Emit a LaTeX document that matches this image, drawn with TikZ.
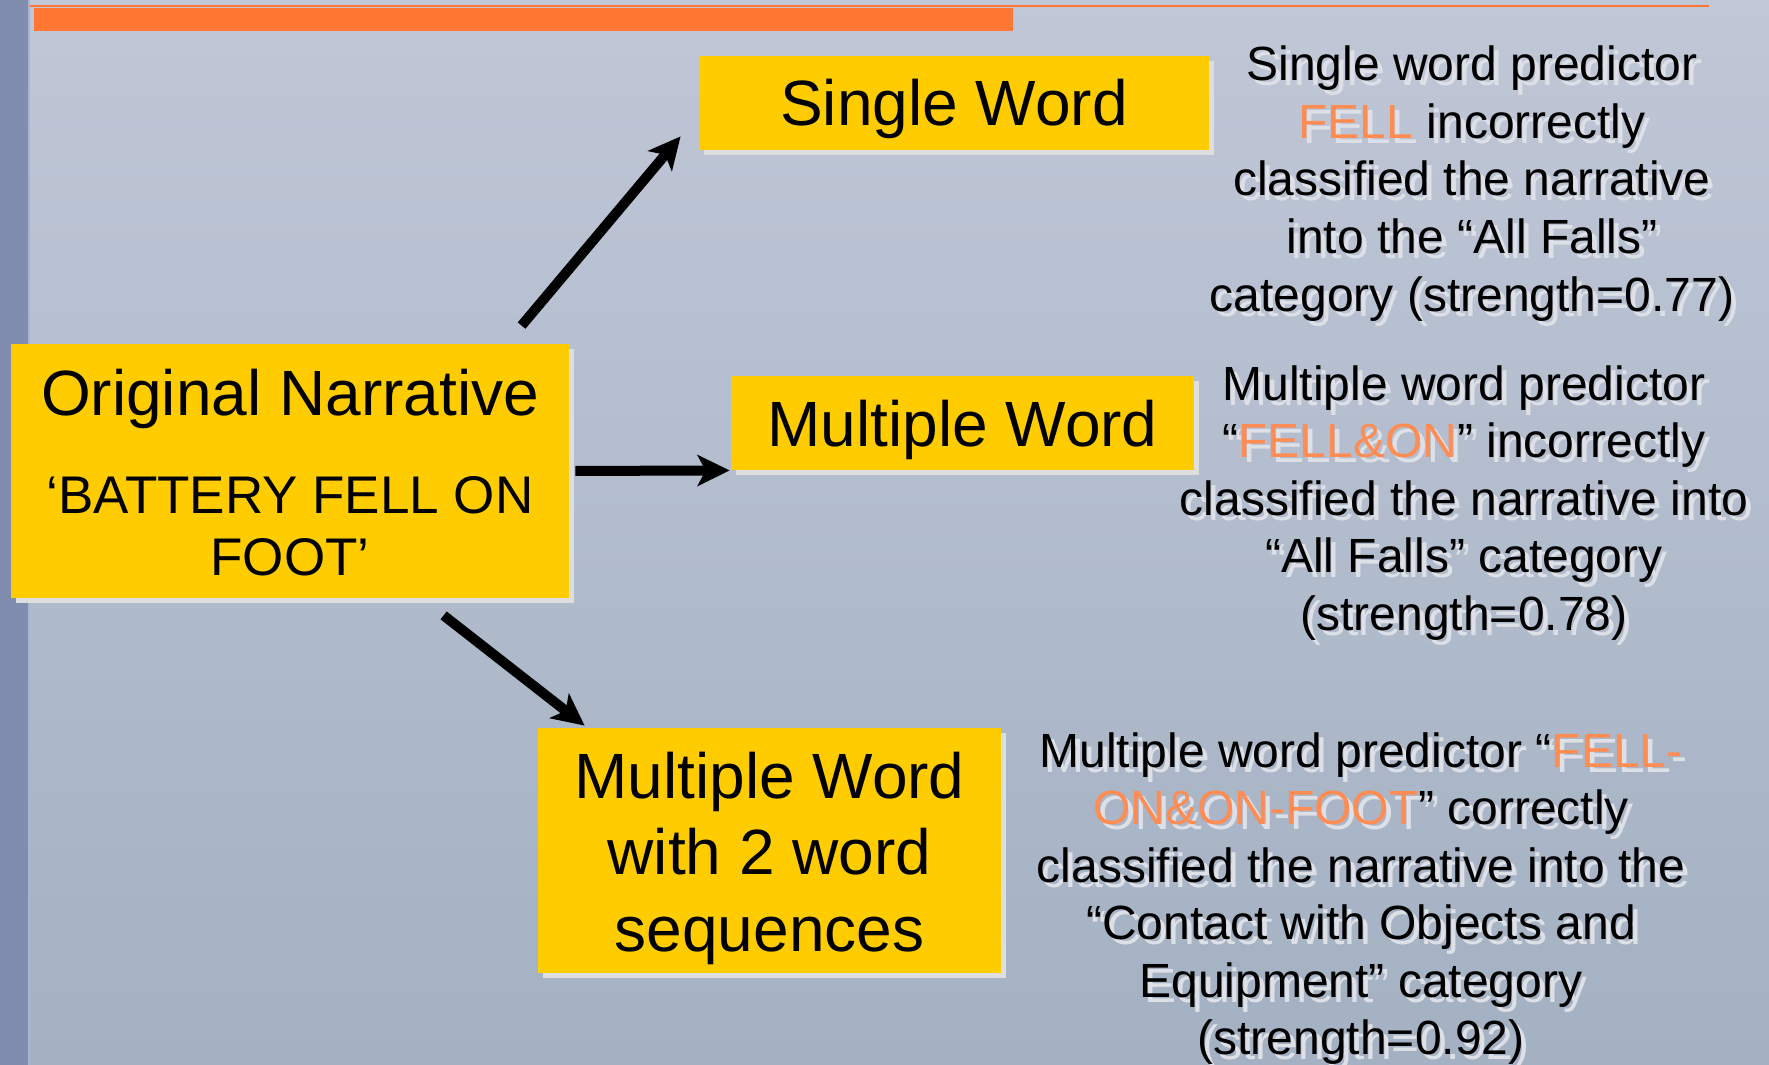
\documentclass[tikz,border=0pt]{standalone}
\usepackage{fontspec}
\setmainfont{Liberation Sans}
\usetikzlibrary{arrows.meta,calc,shadows}

\definecolor{bgtop}{RGB}{192,199,215}
\definecolor{bgbot}{RGB}{163,177,194}
\definecolor{stripe}{RGB}{128,141,174}
\definecolor{stripeedge}{RGB}{170,180,208}
\definecolor{barorange}{RGB}{255,119,51}
\definecolor{boxyellow}{RGB}{255,204,0}
\definecolor{boxshadow}{RGB}{222,222,222}
\definecolor{txtshadow}{RGB}{222,224,231}
\definecolor{keyorange}{RGB}{255,140,82}

% highlighted predictor terms; the shadow copy recolours them
\colorlet{hlc}{keyorange}
\newcommand\hl[1]{{\color{hlc}#1}}
\newcommand\shadowed[1]{\leavevmode\rlap{\kern2.5pt\raisebox{-2.5pt}{\colorlet{hlc}{txtshadow}\color{txtshadow}#1}}#1}

\tikzset{
  box/.style={fill=boxyellow, inner sep=0pt, rectangle,
    general shadow={fill=boxshadow, shadow xshift=2.5pt, shadow yshift=-2.5pt}},
  boxtxt/.style={anchor=base, inner sep=0pt, font=\fontsize{32}{38}\selectfont},
  boxsub/.style={anchor=base, inner sep=0pt, font=\fontsize{26.5}{31}\selectfont},
  rtxt/.style={anchor=base, inner sep=0pt, font=\fontsize{24}{28.75}\selectfont},
  arr/.style={line width=5pt, -{Stealth[length=16pt, width=15.5pt, inset=4pt]}},
}

\begin{document}
\begin{tikzpicture}[x=0.5pt, y=-0.5pt]
\useasboundingbox (0,0) rectangle (1769,1065);

% slide background
\shade[top color=bgtop, bottom color=bgbot] (0,0) rectangle (1769,1065);
\fill[stripe] (0,0) rectangle (28,1065);
\fill[stripeedge] (28,0) rectangle (30,1065);
\fill[barorange] (30,5.5) rectangle (1709,7.5);
\fill[barorange] (34,8) rectangle (1013,31);

% boxes
\node[box, minimum width=279pt, minimum height=127pt] (orig) at (290,471) {};
\node[box, minimum width=255pt, minimum height=47pt] (single) at (954,103) {};
\node[box, minimum width=231.5pt, minimum height=47pt] (mult) at (962.5,423) {};
\node[box, minimum width=231.5pt, minimum height=122.5pt] (seq) at (769.5,850.5) {};

% box labels
\node[boxtxt] (origA) at (290,415) {Original Narrative};
\node[boxsub] (origB) at (290,513) {‘BATTERY FELL ON};
\node[boxsub] (origC) at (290,575) {FOOT’};
\node[boxtxt] (singleT) at (954,126) {Single Word};
\node[boxtxt] (multT) at (962.5,446) {Multiple Word};
\node[boxtxt] (seqA) at (769.5,798) {Multiple Word};
\node[boxtxt] (seqB) at (769.5,874) {with 2 word};
\node[boxtxt] (seqC) at (769.5,951) {sequences};

% arrows
\coordinate (a1s) at ($(orig.north west)+(511,-18)$);
\coordinate (a1e) at ($(single.south west)+(-18,-14)$);
\coordinate (a2s) at ($(orig.east)+(6,0)$);
\coordinate (a2e) at ($(mult.south west)+(-1,0)$);
\coordinate (a3s) at ($(orig.south west)+(433,17)$);
\coordinate (a3e) at ($(seq.north west)+(47,-2)$);
\draw[arr] (a1s) -- (a1e);
\draw[arr] (a2s) -- (a2e);
\draw[arr] (a3s) -- (a3e);

% explanations
\foreach \t [count=\i] in {
  Single word predictor,
  \hl{FELL} incorrectly,
  classified the narrative,
  into the “All Falls”,
  category (strength=0.77)}
  \node[rtxt] (r1-\i) at (1472,{81+57.5*(\i-1)}) {\shadowed{\t}};

\foreach \t [count=\i] in {
  Multiple word predictor,
  “\hl{FELL\&ON}” incorrectly,
  classified the narrative into,
  “All Falls” category,
  (strength=0.78)}
  \node[rtxt] (r2-\i) at (1464,{400+57.5*(\i-1)}) {\shadowed{\t}};

\foreach \t [count=\i] in {
  Multiple word predictor “\hl{FELL-},
  \hl{ON\&ON-FOOT}” correctly,
  classified the narrative into the,
  “Contact with Objects and,
  Equipment” category,
  (strength=0.92)}
  \node[rtxt] (r3-\i) at (1361,{767+57.5*(\i-1)}) {\shadowed{\t}};
\end{tikzpicture}
\end{document}
